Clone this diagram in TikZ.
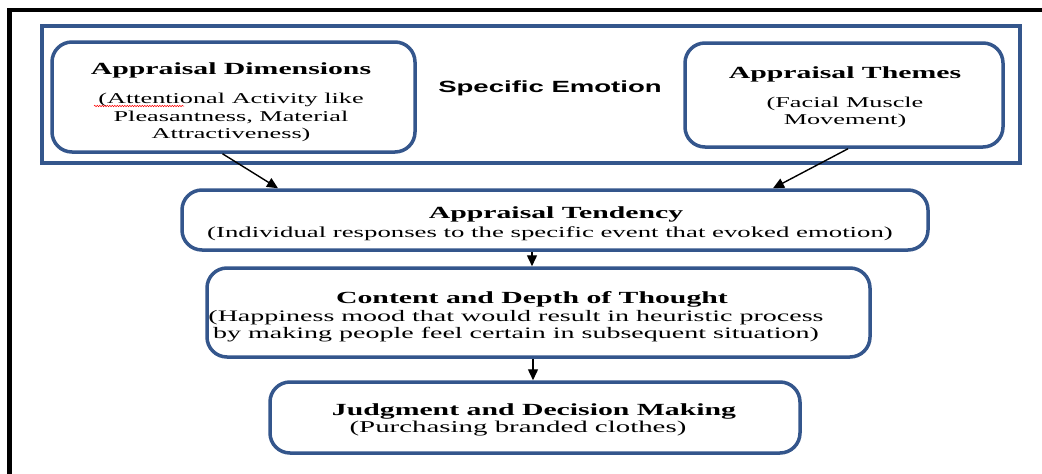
\documentclass[tikz,border=0pt]{standalone}
\usepackage{fontspec}
\setmainfont{Liberation Serif}
\newfontfamily\tfont[FakeStretch=1.75]{Liberation Serif}
\newfontfamily\sefont[FakeStretch=1.7]{Liberation Sans}
\usetikzlibrary{arrows.meta,calc,decorations.pathmorphing}
\definecolor{bdr}{RGB}{52,86,140}
\begin{document}
\begin{tikzpicture}[x=1pt,y=-1pt,
  rbox/.style={draw=bdr,line width=3.5pt,rounded corners=20pt,inner sep=0pt},
  framebox/.style={draw=bdr,line width=3.5pt,inner sep=0pt},
  ttl/.style={inner sep=0pt,font=\tfont\bfseries\fontsize{17}{19}\selectfont},
  subA/.style={inner sep=0pt,align=center,font=\tfont\fontsize{15}{17.5}\selectfont},
  subB/.style={inner sep=0pt,align=center,font=\tfont\fontsize{15}{17}\selectfont},
  subC/.style={inner sep=0pt,align=center,font=\tfont\fontsize{15.3}{16}\selectfont},
  subD/.style={inner sep=0pt,align=center,font=\tfont\fontsize{16}{17}\selectfont},
  subE/.style={inner sep=0pt,align=center,font=\tfont\fontsize{16.5}{16}\selectfont},
  arr/.style={line width=1.4pt,-{Triangle[length=11pt,width=10pt]}}]
\useasboundingbox (0,0) rectangle (1042,474);
\fill[white] (0,0) rectangle (1042,474);
\draw[line width=4.5pt] (9.5,474) -- (9.5,10) -- (1042,10);

% outer frame and boxes
\node[framebox,minimum width=978pt,minimum height=137pt] (outer) at (531,94.5) {};
\node[rbox,minimum width=363pt,minimum height=110pt] (b1) at (233.5,97) {};
\node[rbox,minimum width=318pt,minimum height=104pt] (b2) at (844,95) {};
\node[rbox,minimum width=746pt,minimum height=60pt] (b3) at (555,220) {};
\node[rbox,minimum width=663pt,minimum height=89pt] (b4) at (538.5,312.5) {};
\node[rbox,minimum width=530pt,minimum height=71pt] (b5) at (535,417.5) {};

% texts
\node[inner sep=0pt,font=\sefont\bfseries\fontsize{16.2}{18}\selectfont] (se) at (550,88) {Specific Emotion};

\node[ttl] (t1) at (231,70) {Appraisal Dimensions};
\node[subA] (s1) at (231,117.5) {(Attentional Activity like\\Pleasantness, Material\\Attractiveness)};
\draw[red,line width=0.5pt,decorate,decoration={snake,amplitude=0.7pt,segment length=2.5pt}] (94,106) -- (184,106);

\node[ttl] (t2) at (845,74) {Appraisal Themes};
\node[subB] (s2) at (845,112) {(Facial Muscle\\Movement)};

\node[ttl] (t3) at (556,214) {Appraisal Tendency};
\node[subC] (s3) at (550,234) {(Individual responses to the specific event that evoked emotion)};

\node[ttl] (t4) at (532,299) {Content and Depth of Thought};
\node[subD] (s4) at (516,326) {(Happiness mood that would result in heuristic process\\by making people feel certain in subsequent situation)};

\node[ttl] (t5) at (534,411) {Judgment and Decision Making};
\node[subE] (s5) at (518,429) {(Purchasing branded clothes)};

% connectors
\draw[arr] ($(b1.south)+(-11,0)$) -- ($(b3.north)+(-277,0)$);
\draw[arr] ($(b2.south)+(4,0)$) -- ($(b3.north)+(218,0)$);
\draw[arr] ($(b3.south)+(-23,0)$) -- ($(b4.north)+(-6.5,0)$);
\draw[arr] ($(b4.south)+(-5.5,0)$) -- ($(b5.north)+(-2,0)$);
\end{tikzpicture}
\end{document}
